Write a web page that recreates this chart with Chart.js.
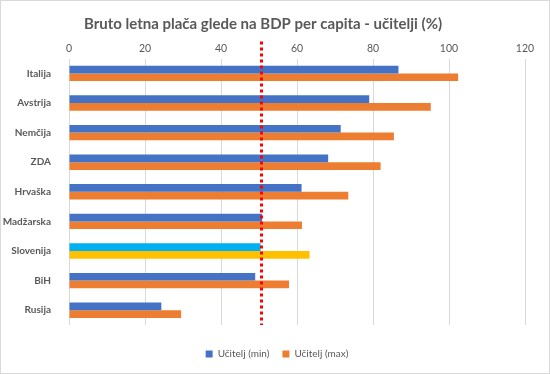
<!DOCTYPE html>
<html>
<head>
<meta charset="utf-8">
<script src="https://cdn.jsdelivr.net/npm/chart.js@4"></script>
<style>
  html, body { margin: 0; padding: 0; background: #fff; }
  .wrap { width: 550px; height: 374px; box-sizing: border-box; border: 1px solid #d9d9d9; position: relative; }
  canvas { display: block; }
</style>
</head>
<body>
<div class="wrap"><canvas id="chart" width="548" height="372"></canvas></div>
<script>
// ─── Data ────────────────────────────────────────────────
const countries = ['Italija', 'Avstrija', 'Nemčija', 'ZDA', 'Hrvaška', 'Madžarska', 'Slovenija', 'BiH', 'Rusija'];
const minValues = [86.7, 79.0, 71.5, 68.2, 61.2, 50.8, 50.4, 49.0, 24.3];
const maxValues = [102.4, 95.2, 85.5, 82.0, 73.5, 61.3, 63.3, 57.9, 29.5];
const xTicks    = [0, 20, 40, 60, 80, 100, 120];
const refLine   = 50.6;   // red dotted marker (Slovenija)
const highlight = 'Slovenija';

const hiIdx = countries.indexOf(highlight);
const grey = '#595959';
const font = 'Lato, "Open Sans", sans-serif';

// red dotted vertical line through the plot
const refLinePlugin = {
  id: 'refLine',
  afterDatasetsDraw(chart) {
    const { ctx, chartArea, scales } = chart;
    const x = Math.round(scales.x.getPixelForValue(refLine)) + 0.5;
    ctx.save();
    ctx.strokeStyle = '#ff0000';
    ctx.lineWidth = 3;
    ctx.setLineDash([3, 3]);
    ctx.beginPath();
    ctx.moveTo(x, chartArea.top - 17);
    ctx.lineTo(x, chartArea.bottom);
    ctx.stroke();
    ctx.restore();
  }
};

// nudge the legend so it sits centred on the whole frame, a bit lower
const legendShift = {
  id: 'legendShift',
  afterLayout(chart) {
    const lg = chart.legend;
    if (!lg) return;
    lg.left += 14; lg.right += 14;
    lg.top += 11;  lg.bottom += 11;
  }
};

new Chart(document.getElementById('chart'), {
  type: 'bar',
  data: {
    labels: countries,
    datasets: [
      {
        label: 'Učitelj (min)',
        data: minValues,
        backgroundColor: c => c.dataIndex === hiIdx ? '#00b0f0' : '#4472c4',
        categoryPercentage: 0.52,
        barPercentage: 1
      },
      {
        label: 'Učitelj (max)',
        data: maxValues,
        backgroundColor: c => c.dataIndex === hiIdx ? '#ffc000' : '#ed7d31',
        categoryPercentage: 0.52,
        barPercentage: 1
      }
    ]
  },
  options: {
    indexAxis: 'y',
    responsive: false,
    animation: false,
    layout: { padding: { left: 0, right: 24, top: 4, bottom: 15 } },
    plugins: {
      title: {
        display: true,
        text: 'Bruto letna plača glede na BDP per capita - učitelji (%)',
        color: grey,
        font: { family: font, size: 15, weight: 'bold' },
        padding: { top: 10, bottom: 5 }
      },
      legend: {
        position: 'bottom',
        labels: {
          color: grey,
          font: { family: font, size: 10 },
          boxWidth: 7, boxHeight: 7,
          padding: 13
        }
      },
      tooltip: { enabled: false }
    },
    scales: {
      x: {
        position: 'top',
        min: 0, max: 120,
        afterBuildTicks: axis => { axis.ticks = xTicks.map(v => ({ value: v })); },
        grid: { color: '#d9d9d9', lineWidth: 1, drawTicks: false },
        border: { display: false },
        ticks: { color: grey, font: { family: font, size: 10.5 }, padding: 4 }
      },
      y: {
        afterFit: axis => { axis.width = 68; },
        grid: { display: false },
        border: { display: false },
        ticks: { color: grey, font: { family: font, size: 10, weight: 'bold' }, padding: 10 }
      }
    }
  },
  plugins: [refLinePlugin, legendShift]
});
</script>
</body>
</html>
